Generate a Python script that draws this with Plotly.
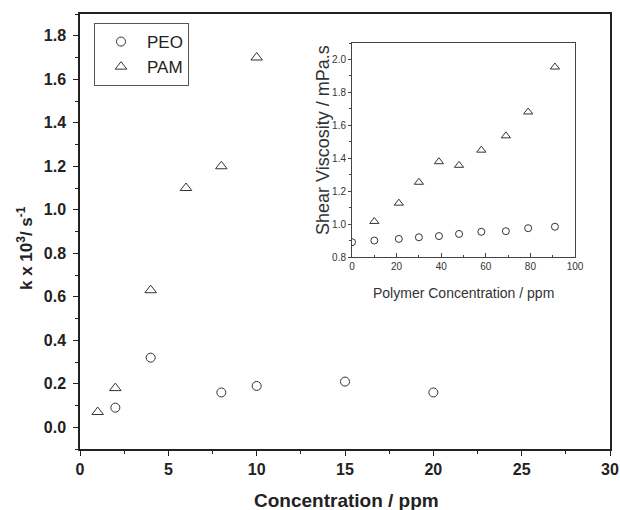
import plotly.graph_objects as go

# Main chart data
peo_x = [2, 4, 8, 10, 15, 20]
peo_k = [0.09, 0.32, 0.16, 0.19, 0.21, 0.16]
pam_x = [1, 2, 4, 6, 8, 10]
pam_k = [0.07, 0.18, 0.63, 1.10, 1.20, 1.70]

# Inset data
inset_peo_x = [0, 10, 21, 30, 39, 48, 58, 69, 79, 91]
inset_peo_v = [0.89, 0.90, 0.91, 0.92, 0.927, 0.94, 0.953, 0.957, 0.975, 0.984]
inset_pam_x = [10, 21, 30, 39, 48, 58, 69, 79, 91]
inset_pam_v = [1.016, 1.127, 1.254, 1.379, 1.357, 1.449, 1.536, 1.681, 1.954]

W, H = 620, 510
FONT = "Liberation Sans, Arial, sans-serif"
MK = "#333333"

def px(x):
    return x / W

def py(y):
    return (H - y) / H

fig = go.Figure()

fig.add_trace(go.Scatter(x=peo_x, y=peo_k, mode="markers", name="PEO",
                         marker=dict(symbol="circle-open", size=9, color=MK, line=dict(width=1, color=MK)),
                         xaxis="x", yaxis="y"))
fig.add_trace(go.Scatter(x=pam_x, y=pam_k, mode="markers", name="PAM",
                         marker=dict(symbol="triangle-up-open", size=10, color=MK, line=dict(width=1, color=MK)),
                         xaxis="x", yaxis="y"))
fig.add_trace(go.Scatter(x=inset_peo_x, y=inset_peo_v, mode="markers", showlegend=False,
                         marker=dict(symbol="circle-open", size=7, color=MK, line=dict(width=1, color=MK)),
                         xaxis="x2", yaxis="y2"))
fig.add_trace(go.Scatter(x=inset_pam_x, y=inset_pam_v, mode="markers", showlegend=False,
                         marker=dict(symbol="triangle-up-open", size=8, color=MK, line=dict(width=1, color=MK)),
                         xaxis="x2", yaxis="y2"))

main_tick_font = dict(family=FONT, size=16, color="#222222")
inset_tick_font = dict(family=FONT, size=10, color="#333333")

fig.update_layout(
    width=W, height=H,
    margin=dict(l=0, r=0, t=0, b=0, autoexpand=False),
    paper_bgcolor="white", plot_bgcolor="white",
    showlegend=True,
    legend=dict(x=px(94), y=py(23), xanchor="left", yanchor="top",
                bordercolor="#555555", borderwidth=1, bgcolor="white",
                font=dict(family=FONT, size=17, color="#222222"),
                itemwidth=42, tracegroupgap=0),
    xaxis=dict(domain=[px(80), px(610)], range=[0, 30], tick0=0, dtick=5,
               ticks="outside", ticklen=5, tickwidth=1.2, tickcolor="#222222",
               minor=dict(dtick=2.5, ticks="outside", ticklen=3, tickcolor="#222222"),
               showline=True, linecolor="#222222", linewidth=1.5, mirror=True,
               showgrid=False, zeroline=False, tickfont=main_tick_font,
               tickprefix="<b>", ticksuffix="</b>", anchor="y"),
    yaxis=dict(domain=[py(449), py(14)], range=[-0.1, 1.9], tick0=0, dtick=0.2,
               tickformat=".1f",
               ticks="outside", ticklen=5, tickwidth=1.2, tickcolor="#222222",
               minor=dict(dtick=0.1, tick0=0, ticks="outside", ticklen=3, tickcolor="#222222"),
               showline=True, linecolor="#222222", linewidth=1.5, mirror=True,
               showgrid=False, zeroline=False, tickfont=main_tick_font,
               ticklabelstandoff=4,
               tickprefix="<b>", ticksuffix="</b>", anchor="x"),
    xaxis2=dict(domain=[px(352), px(575)], range=[0, 100], tick0=0, dtick=20,
                ticks="inside", ticklen=4, tickcolor="#444444",
                minor=dict(dtick=10, ticks="inside", ticklen=2, tickcolor="#444444"),
                showline=True, linecolor="#444444", linewidth=1, mirror=True,
                showgrid=False, zeroline=False, tickfont=inset_tick_font, anchor="y2"),
    yaxis2=dict(domain=[py(257), py(43)], range=[0.8, 2.1], tick0=0.8, dtick=0.2,
                tickformat=".1f",
                ticks="outside", ticklen=3, tickcolor="#444444",
                minor=dict(dtick=0.1, ticks="outside", ticklen=2, tickcolor="#444444"),
                showline=True, linecolor="#444444", linewidth=1, mirror=True,
                showgrid=False, zeroline=False, tickfont=inset_tick_font, anchor="x2"),
)

fig.add_annotation(x=px(346), y=py(500), xref="paper", yref="paper",
                   text="<b>Concentration / ppm</b>", showarrow=False,
                   font=dict(family=FONT, size=19, color="#222222"),
                   xanchor="center", yanchor="middle")
fig.add_annotation(x=px(25), y=py(248), xref="paper", yref="paper",
                   text="<b>k x 10<sup>3</sup>/ s<sup>-1</sup></b>", showarrow=False,
                   textangle=-90, font=dict(family=FONT, size=17, color="#222222"),
                   xanchor="center", yanchor="middle")
fig.add_annotation(x=px(463), y=py(293), xref="paper", yref="paper",
                   text="Polymer Concentration / ppm", showarrow=False,
                   font=dict(family=FONT, size=14, color="#333333"),
                   xanchor="center", yanchor="middle")
fig.add_annotation(x=px(323), y=py(140), xref="paper", yref="paper",
                   text="Shear Viscosity / mPa.s", showarrow=False, textangle=-90,
                   font=dict(family=FONT, size=18, color="#333333"),
                   xanchor="center", yanchor="middle")

fig.write_html("out.html", config={"displayModeBar": False},
               post_script="document.body.style.margin='0px';document.body.style.overflow='hidden';")
